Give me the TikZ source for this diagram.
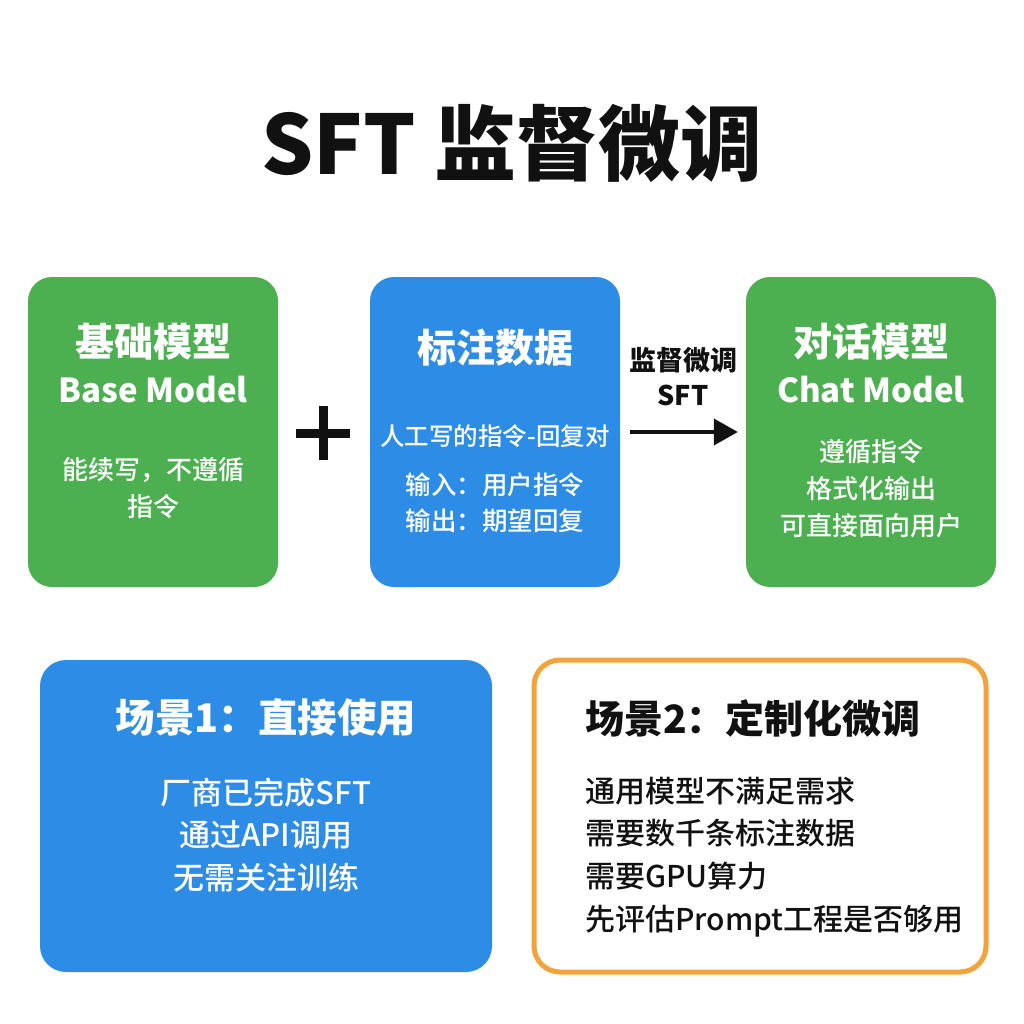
\documentclass[tikz,border=0pt]{standalone}
\usepackage{fontspec}
\setmainfont{Noto Sans CJK SC}
\newfontfamily\medfont{Noto Sans CJK SC Medium}
\usetikzlibrary{arrows.meta}
\definecolor{gbox}{HTML}{4CAF50}
\definecolor{bbox}{HTML}{2D8DE6}
\definecolor{obox}{HTML}{F2A33A}
\definecolor{ink}{HTML}{111111}
\tikzset{
  card/.style={rectangle, rounded corners=24pt, minimum width=250pt, minimum height=310pt, inner sep=0pt},
  wide/.style={rectangle, rounded corners=26pt, minimum width=452pt, minimum height=312pt, inner sep=0pt},
  head/.style={inner sep=0pt, align=center, font=\fontsize{39}{46}\selectfont\bfseries},
  body/.style={inner sep=0pt, align=center, font=\medfont\fontsize{26}{37}\selectfont},
}
\begin{document}
\begin{tikzpicture}[x=1pt,y=-1pt]
\useasboundingbox[fill=white] (0,0) rectangle (1024,1024);
\node[inner sep=0pt, text=ink, font=\fontsize{82}{90}\selectfont\bfseries] (title) at (512,143) {SFT 监督微调};

\node[card, fill=gbox] (base) at (153,432) {};
\node[card, fill=bbox] (data) at (495,432) {};
\node[card, fill=gbox] (chat) at (871,432) {};

\node[head, text=white] (baseh) at (153,363) {基础模型\\{\fontsize{33}{46}\selectfont Base Model}};
\node[body, text=white] (baseb) at (153,488) {能续写，不遵循\\指令};

\node[head, text=white] (datah) at (495,348) {标注数据};
\node[body, text=white, font=\medfont\fontsize{24.5}{37}\selectfont] (data1) at (495,436) {人工写的指令-回复对};
\node[body, text=white, font=\medfont\fontsize{25.5}{36}\selectfont] (data2) at (495,503) {输入：用户指令\\输出：期望回复};

\node[head, text=white] (chath) at (871,363) {对话模型\\{\fontsize{33}{46}\selectfont Chat Model}};
\node[body, text=white] (chatb) at (871,489) {遵循指令\\格式化输出\\可直接面向用户};

\draw[line width=9pt, ink] (296,433) -- (350,433) (323,406) -- (323,460);

\draw[line width=4pt, ink, -{Triangle[length=24pt,width=26pt]}, shorten <=10pt, shorten >=8pt] (data.east |- 0,432) -- (chat.west |- 0,432);
\node[inner sep=0pt, align=center, text=ink, font=\fontsize{27}{35}\selectfont\bfseries] (sft) at (683,377) {监督微调\\SFT};

\node[wide, fill=bbox] (s1) at (266,816) {};
\node[wide, fill=white, draw=obox, line width=5pt] (s2) at (760,816) {};

\node[head, text=white, font=\fontsize{39.5}{46}\selectfont\bfseries] (s1h) at (266,718) {场景1：直接使用};
\node[body, text=white, font=\medfont\fontsize{31}{42.5}\selectfont] (s1b) at (266,835) {厂商已完成SFT\\通过API调用\\无需关注训练};

\node[head, text=ink, anchor=west, font=\fontsize{39}{46}\selectfont\bfseries] (s2h) at (585,718) {场景2：定制化微调};
\node[body, text=ink, anchor=west, align=left, font=\medfont\fontsize{30}{42.7}\selectfont] (s2b) at (585,857) {通用模型不满足需求\\需要数千条标注数据\\需要GPU算力\\先评估Prompt工程是否够用};
\end{tikzpicture}
\end{document}
